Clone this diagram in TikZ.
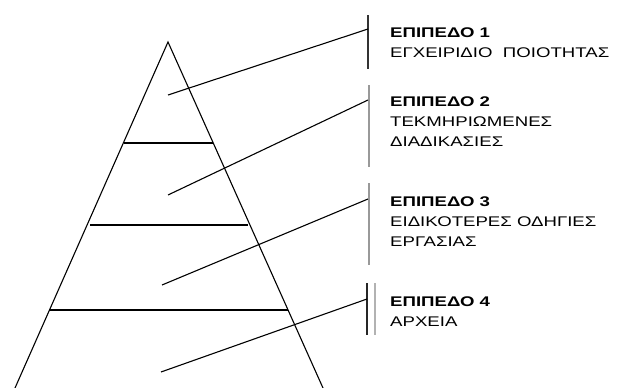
\documentclass[tikz,border=0pt]{standalone}
\usepackage{fontspec}
\newfontfamily\lvlfont[FakeStretch=1.33]{Liberation Sans}
\usepackage{tikz}

\begin{document}
\begin{tikzpicture}[
    x=1pt, y=-1pt,
    edge/.style={line width=1.1pt, black},
    pointer/.style={line width=1.1pt, black},
    bar/.style={line width=1.2pt},
    level/.style={
        anchor=north west,
        inner sep=0pt,
        align=left,
        font=\lvlfont\fontsize{14}{20}\selectfont
    }
]
    \useasboundingbox (0,0) rectangle (630,388);

    % Pyramid outline and layer borders
    \coordinate (apex) at (168,42);
    \coordinate (baseL) at (15,388);
    \coordinate (baseR) at (323,388);
    \draw [edge] (baseL) -- (apex) -- (baseR);
    \draw [edge] (124,143) -- (213,143);
    \draw [edge] (90,225) -- (248,225);
    \draw [edge] (49,310) -- (288,310);

    % Level labels
    \node [level] (lvl1) at (390,28) {\textbf{ΕΠΙΠΕΔΟ 1}\\ΕΓΧΕΙΡΙΔΙΟ\ \ ΠΟΙΟΤΗΤΑΣ};
    \node [level] (lvl2) at (390,97) {\textbf{ΕΠΙΠΕΔΟ 2}\\ΤΕΚΜΗΡΙΩΜΕΝΕΣ\\ΔΙΑΔΙΚΑΣΙΕΣ};
    \node [level] (lvl3) at (390,197) {\textbf{ΕΠΙΠΕΔΟ 3}\\ΕΙΔΙΚΟΤΕΡΕΣ ΟΔΗΓΙΕΣ\\ΕΡΓΑΣΙΑΣ};
    \node [level] (lvl4) at (390,297) {\textbf{ΕΠΙΠΕΔΟ 4}\\ΑΡΧΕΙΑ};

    % Brackets beside the labels
    \draw [bar, black!80] (368,15) -- (368,69);
    \draw [bar, black!40] (369,85) -- (369,167);
    \draw [bar, black!40] (369,183) -- (369,265);
    \draw [bar, black!85] (367,283) -- (367,335);
    \draw [bar, black!30] (375,283) -- (375,335);

    % Pointers from layers to brackets
    \coordinate (in1) at (168,95);
    \coordinate (in2) at (168,195);
    \coordinate (in3) at (162,285);
    \coordinate (in4) at (161,372);
    \coordinate (out1) at (368,29);
    \coordinate (out2) at (368,100);
    \coordinate (out3) at (368,199);
    \coordinate (out4) at (367,299);
    \draw [pointer] (in1) -- (out1);
    \draw [pointer] (in2) -- (out2);
    \draw [pointer] (in3) -- (out3);
    \draw [pointer] (in4) -- (out4);

\end{tikzpicture}
\end{document}
